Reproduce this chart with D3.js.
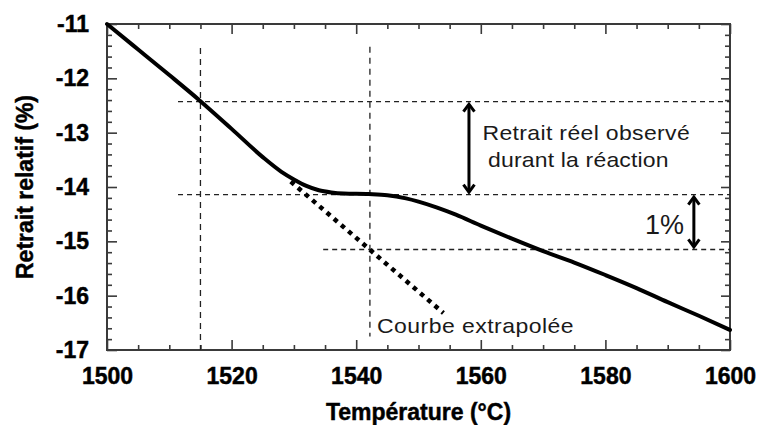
<!DOCTYPE html>
<html>
<head>
<meta charset="utf-8">
<script src="https://cdn.jsdelivr.net/npm/d3@7"></script>
<style>
  html, body { margin: 0; padding: 0; background: #fff; }
  svg { display: block; }
</style>
</head>
<body>
<svg id="chart" width="759" height="425"></svg>
<script>
// Measured shrinkage curve (temperature in °C, relative shrinkage in %)
const temps = [1500, 1505, 1510, 1515, 1520, 1525, 1528, 1530, 1532, 1534, 1536, 1538, 1542,
               1545, 1548, 1550, 1553, 1556, 1560, 1565, 1570, 1575, 1580, 1585, 1590, 1595, 1600];
const retrait = [-11.00, -11.47, -11.94, -12.42, -12.93, -13.45, -13.72, -13.86, -13.98, -14.06, -14.10, -14.12, -14.13,
                 -14.15, -14.21, -14.27, -14.38, -14.51, -14.71, -14.95, -15.18, -15.39, -15.62, -15.86, -16.12, -16.37, -16.63];

// Extrapolated linear trend (dotted)
const extrapTemps = [1529.5, 1554];
const extrapRetrait = [-13.90, -16.32];

// Axis ticks
const xMajor = [1500, 1520, 1540, 1560, 1580, 1600];
const yMajor = [-11, -12, -13, -14, -15, -16, -17];

// Reference guide lines
const guideTemps = [1515, 1542.2];              // vertical dashed lines
const guideTempTop = [-11.44, -11.42];
const guideTempBottom = [-17, -16.75];
const guideLevels = [-12.43, -14.14, -15.15];   // horizontal dashed lines
const guideLevelStart = [1511.4, 1511.4, 1534.7];

// Double arrows: [temperature, from, to]
const arrowTemps = [1558.1, 1594.2];
const arrowFrom = [-12.43, -14.14];
const arrowTo = [-14.14, -15.15];

const svg = d3.select("#chart");
const W = 759, H = 425;
const margin = { left: 107, top: 24, right: W - 730, bottom: H - 350 };
const x = d3.scaleLinear().domain([1500, 1600]).range([margin.left, W - margin.right]);
const y = d3.scaleLinear().domain([-11, -17]).range([margin.top, H - margin.bottom]);

const boldFont = "'Liberation Sans', Arial, Helvetica, sans-serif";
const axisColor = "#3a3a3a";

const xMinor = d3.range(1500, 1601, 5).filter(v => !xMajor.includes(v));
const yMinor = d3.range(-11, -17.01, -0.2).map(v => +v.toFixed(1)).filter(v => !yMajor.includes(v));

function styleAxis(g) {
  g.select(".domain").remove();
  g.selectAll(".tick line").attr("stroke", axisColor).attr("stroke-width", 1.6);
}
function boldLabels(g) {
  g.selectAll("text")
    .attr("font-family", boldFont).attr("font-weight", "bold").attr("font-size", 23)
    .attr("fill", "#000").attr("stroke", "#000").attr("stroke-width", 0.45);
}

// bottom axis: inward ticks + labels
svg.append("g").attr("transform", `translate(0,${y(-17)})`)
  .call(d3.axisBottom(x).tickValues(xMinor).tickSize(-5).tickFormat(""))
  .call(styleAxis);
svg.append("g").attr("transform", `translate(0,${y(-17)})`)
  .call(d3.axisBottom(x).tickValues(xMajor).tickSize(-10).tickPadding(18).tickFormat(d => String(d)))
  .call(styleAxis)
  .call(boldLabels);

// top axis: inward ticks
svg.append("g").attr("transform", `translate(0,${y(-11)})`)
  .call(d3.axisTop(x).tickValues(xMinor).tickSize(-5).tickFormat(""))
  .call(styleAxis);
svg.append("g").attr("transform", `translate(0,${y(-11)})`)
  .call(d3.axisTop(x).tickValues(xMajor).tickSize(-10).tickFormat(""))
  .call(styleAxis);

// left axis: inward ticks + labels
svg.append("g").attr("transform", `translate(${x(1500)},0)`)
  .call(d3.axisLeft(y).tickValues(yMinor).tickSize(-5).tickFormat(""))
  .call(styleAxis);
svg.append("g").attr("transform", `translate(${x(1500)},0)`)
  .call(d3.axisLeft(y).tickValues(yMajor).tickSize(-10).tickPadding(18).tickFormat(d => String(d)))
  .call(styleAxis)
  .call(boldLabels);

// right axis: inward ticks
svg.append("g").attr("transform", `translate(${x(1600)},0)`)
  .call(d3.axisRight(y).tickValues(yMinor).tickSize(-5).tickFormat(""))
  .call(styleAxis);
svg.append("g").attr("transform", `translate(${x(1600)},0)`)
  .call(d3.axisRight(y).tickValues(yMajor).tickSize(-9).tickFormat(""))
  .call(styleAxis);

// frame
svg.append("rect")
  .attr("x", x(1500)).attr("y", y(-11))
  .attr("width", x(1600) - x(1500)).attr("height", y(-17) - y(-11))
  .attr("fill", "none").attr("stroke", axisColor).attr("stroke-width", 2);

// dashed guide lines
const guides = svg.append("g").attr("stroke", "#222").attr("stroke-width", 1.3).attr("fill", "none");
guideTemps.forEach((t, i) => {
  guides.append("line")
    .attr("x1", x(t)).attr("x2", x(t))
    .attr("y1", y(guideTempTop[i])).attr("y2", y(guideTempBottom[i]))
    .attr("stroke-dasharray", "6,5");
});
guideLevels.forEach((v, i) => {
  guides.append("line")
    .attr("x1", x(guideLevelStart[i])).attr("x2", x(1600))
    .attr("y1", y(v)).attr("y2", y(v))
    .attr("stroke-dasharray", "5,4");
});

// extrapolated trend (dotted)
const extrapData = extrapTemps.map((t, i) => [t, extrapRetrait[i]]);
svg.append("path")
  .datum(extrapData)
  .attr("d", d3.line().x(d => x(d[0])).y(d => y(d[1])))
  .attr("fill", "none").attr("stroke", "#000")
  .attr("stroke-width", 4.5).attr("stroke-dasharray", "4.5,5");

// measured curve
const curveData = temps.map((t, i) => [t, retrait[i]]);
svg.append("path")
  .datum(curveData)
  .attr("d", d3.line().x(d => x(d[0])).y(d => y(d[1])).curve(d3.curveMonotoneX))
  .attr("fill", "none").attr("stroke", "#000")
  .attr("stroke-width", 4).attr("stroke-linejoin", "round").attr("stroke-linecap", "round");

// double-headed arrows
const arrows = svg.append("g").attr("stroke", "#000").attr("fill", "none")
  .attr("stroke-width", 3).attr("stroke-linejoin", "miter");
arrowTemps.forEach((t, i) => {
  const ax = x(t), y1 = y(arrowFrom[i]) + 1, y2 = y(arrowTo[i]) - 1;
  arrows.append("line").attr("x1", ax).attr("x2", ax).attr("y1", y1 + 2).attr("y2", y2 - 2);
  arrows.append("path").attr("d", `M${ax - 5.5},${y1 + 9} L${ax},${y1 + 1.5} L${ax + 5.5},${y1 + 9}`);
  arrows.append("path").attr("d", `M${ax - 5.5},${y2 - 9} L${ax},${y2 - 1.5} L${ax + 5.5},${y2 - 9}`);
});

// annotations (slightly widened sans-serif)
const noteFont = "'Liberation Sans', Arial, Helvetica, sans-serif";
function note(txt, tx, ty, size, spacing, stretch) {
  svg.append("text")
    .attr("transform", `translate(${tx},${ty}) scale(${stretch},1)`)
    .attr("font-family", noteFont).attr("font-size", size)
    .attr("letter-spacing", spacing).attr("fill", "#1a1a1a")
    .text(txt);
}
note("Retrait réel observé", 482.5, 139.5, 20, 0.3, 1.15);
note("durant la réaction", 488, 166.5, 20, 0.15, 1.15);
note("Courbe extrapolée", 377, 333, 20, 0.4, 1.15);
note("1%", 645, 234, 27, 0, 1.0);

// axis titles
svg.append("text")
  .attr("x", (x(1500) + x(1600)) / 2).attr("y", 420)
  .attr("text-anchor", "middle")
  .attr("font-family", boldFont).attr("font-weight", "bold").attr("font-size", 23)
  .attr("fill", "#000").attr("stroke", "#000").attr("stroke-width", 0.45)
  .text("Température (°C)");

svg.append("text")
  .attr("transform", `translate(33,${(y(-11) + y(-17)) / 2}) rotate(-90)`)
  .attr("text-anchor", "middle")
  .attr("font-family", boldFont).attr("font-weight", "bold").attr("font-size", 23)
  .attr("fill", "#000").attr("stroke", "#000").attr("stroke-width", 0.45)
  .text("Retrait relatif (%)");
</script>
</body>
</html>
